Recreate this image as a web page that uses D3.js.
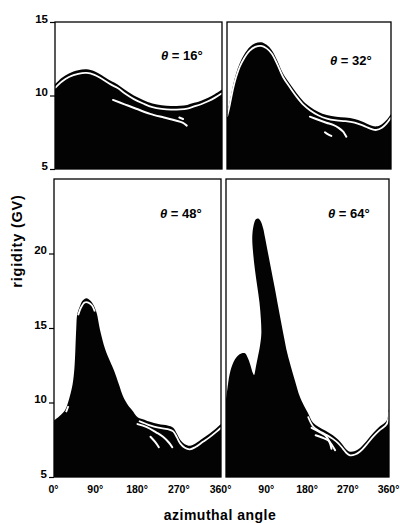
<!DOCTYPE html>
<html><head><meta charset="utf-8">
<script src="https://cdn.jsdelivr.net/npm/d3@7"></script>
<style>
html,body{margin:0;padding:0;background:#fff;}
svg{display:block;}
text{font-family:"Liberation Sans",Arial,sans-serif;font-weight:bold;fill:#000;}
</style></head><body>
<svg id="chart" width="400" height="523"></svg>
<script>
// ---------- data ----------
const angleTicks = [0, 90, 180, 270, 360];
const angleLabels = ["0°", "90°", "180°", "270°", "360°"];
const topRigidityTicks = [5, 10, 15];
const bottomRigidityTicks = [5, 10, 15, 20];
const zenithLabels = ["16°", "32°", "48°", "64°"];

// cutoff boundary (azimuth deg, rigidity GV) – top of the black region
const cutoff16 = [[0,10.75],[15,11.2],[30,11.5],[50,11.72],[68,11.78],[85,11.65],[100,11.4],[120,11.0],[135,10.75],[150,10.4],[170,10.0],[190,9.7],[210,9.45],[230,9.33],[250,9.28],[270,9.3],[285,9.36],[300,9.5],[315,9.65],[330,9.85],[345,10.1],[360,10.4]];
const cutoff32 = [[0,8.8],[4,9.3],[8,9.9],[14,10.8],[20,11.5],[28,12.2],[38,12.8],[50,13.3],[62,13.55],[75,13.62],[87,13.45],[98,13.1],[110,12.4],[123,11.5],[138,10.8],[153,10.15],[168,9.6],[182,9.24],[200,8.9],[219,8.67],[240,8.55],[260,8.5],[280,8.4],[295,8.25],[306,8.1],[318,7.95],[328,7.9],[340,8.05],[350,8.33],[360,8.75]];
const cutoff48 = [[0,8.8],[12,9.1],[24,9.5],[34,10.4],[40,11.2],[44,12.3],[46,13.5],[48,15.0],[50,15.9],[55,16.4],[62,16.85],[70,17.0],[78,16.85],[86,16.5],[92,16.0],[99,14.9],[110,13.6],[121,12.75],[130,12.1],[140,11.2],[149,10.4],[160,9.8],[168,9.5],[181,9.0],[195,8.85],[207,8.7],[225,8.55],[245,8.45],[257,8.3],[265,7.9],[272,7.5],[282,7.2],[293,7.1],[305,7.25],[321,7.6],[335,7.9],[351,8.3],[360,8.55]];
const cutoff64 = [[0,10.2],[3,10.9],[8,11.9],[15,12.6],[25,13.1],[35,13.3],[42,13.3],[48,13.0],[54,12.5],[59,12.0],[62,11.85],[66,12.4],[70,13.0],[75,13.8],[78,14.6],[77,15.6],[74,16.7],[69,17.8],[64,18.9],[60,20.0],[58,21.1],[61,21.9],[66,22.3],[71,22.35],[76,22.2],[82,21.7],[86,21.1],[93,20.0],[100,18.9],[107,17.8],[114,16.65],[121,15.5],[128,14.4],[135,13.35],[142,12.55],[152,11.5],[163,10.4],[172,9.8],[181,9.3],[192,8.65],[205,8.35],[220,8.1],[236,7.8],[248,7.5],[258,7.15],[266,6.85],[274,6.7],[285,6.75],[296,6.95],[310,7.4],[325,7.95],[340,8.4],[355,8.8],[360,9.6]];

// penumbra edges (white bands just inside the cutoff boundary)
const penumbra16 = [cutoff16];
const penumbra32 = [cutoff32];
const penumbra48 = [
  [[52,16.1],[58,16.6],[66,16.95],[74,16.95],[82,16.75],[88,16.35]],
  [[26,9.6],[31,10.0]],
  [[183,9.0],[195,8.85],[207,8.7],[225,8.55],[245,8.45],[257,8.3],[265,7.9],[272,7.5],[282,7.2],[293,7.1],[305,7.25],[321,7.6],[335,7.9],[351,8.3],[360,8.55]]
];
const penumbra64 = [
  [[181,9.3],[192,8.65],[205,8.35],[220,8.1],[236,7.8],[248,7.5],[258,7.15],[266,6.85],[274,6.7],[285,6.75],[296,6.95],[310,7.4],[325,7.95],[340,8.4],[355,8.8],[360,9.6]]
];

// forbidden-band streaks inside the black region
const streaks16 = [[[125,9.7],[150,9.4],[175,9.1],[205,8.75],[235,8.5],[260,8.3],[275,8.15],[284,7.95]], [[268,8.5],[276,8.4]]];
const streaks32 = [[[182,8.56],[200,8.35],[218,8.15],[233,8.0],[245,7.8],[255,7.54],[262,7.2]], [[215,7.5],[222,7.35],[229,7.25]]];
const streaks48 = [[[180,8.55],[200,8.35],[220,8.0],[235,7.7],[248,7.3],[255,7.0]], [[208,7.7],[218,7.35],[226,7.0]]];
const streaks64 = [[[189,8.3],[205,8.05],[219,7.8],[228,7.4],[233,6.9]], [[198,7.8],[212,7.65],[226,7.45],[235,7.1],[241,6.8]]];

// ---------- layout ----------
const panels = [
  {cut: cutoff16, pen: penumbra16, str: streaks16, label: zenithLabels[0], x0: 55,  x1: 222, yb: 169, yt: 22,  ymax: 15, ticks: topRigidityTicks, left: true,  bottom: false, ly: 38},
  {cut: cutoff32, pen: penumbra32, str: streaks32, label: zenithLabels[1], x0: 227, x1: 391, yb: 169, yt: 22,  ymax: 15, ticks: topRigidityTicks, left: false, bottom: false, ly: 43},
  {cut: cutoff48, pen: penumbra48, str: streaks48, label: zenithLabels[2], x0: 54,  x1: 221, yb: 477, yt: 179, ymax: 25, ticks: bottomRigidityTicks, left: true,  bottom: true, ly: 39},
  {cut: cutoff64, pen: penumbra64, str: streaks64, label: zenithLabels[3], x0: 226, x1: 389, yb: 477, yt: 179, ymax: 25, ticks: bottomRigidityTicks, left: false, bottom: true, ly: 39}
];

const svg = d3.select("#chart");
const defs = svg.append("defs");

panels.forEach((p, i) => {
  const x = d3.scaleLinear().domain([0, 360]).range([p.x0, p.x1]);
  const y = d3.scaleLinear().domain([5, p.ymax]).range([p.yb, p.yt]);
  const line = d3.line().x(d => x(d[0])).y(d => y(d[1])).curve(d3.curveCatmullRom.alpha(0.5));
  const lineLin = d3.line().x(d => x(d[0])).y(d => y(d[1]));

  defs.append("clipPath").attr("id", "clip" + i)
    .append("rect").attr("x", p.x0).attr("y", p.yt).attr("width", p.x1 - p.x0).attr("height", p.yb - p.yt + 2);

  const g = svg.append("g");
  const inner = g.append("g").attr("clip-path", `url(#clip${i})`);

  // black allowed region
  const topPath = line(p.cut);
  const closing = lineLin([[360, p.cut[p.cut.length-1][1]], [360, 5], [0, 5], [0, p.cut[0][1]]]);
  inner.append("path")
    .attr("d", topPath + "L" + closing.slice(1) + "Z")
    .attr("fill", "#030303");

  // penumbra white bands
  p.pen.forEach(seg => {
    inner.append("path").attr("d", line(seg))
      .attr("fill", "none").attr("stroke", "#fff").attr("stroke-width", 1.8)
      .attr("transform", "translate(0,3.6)");
  });
  // streaks
  p.str.forEach(seg => {
    inner.append("path").attr("d", line(seg))
      .attr("fill", "none").attr("stroke", "#fff").attr("stroke-width", 2)
      .attr("stroke-linecap", "round");
  });

  // frame
  g.append("rect").attr("x", p.x0).attr("y", p.yt)
    .attr("width", p.x1 - p.x0).attr("height", p.yb - p.yt)
    .attr("fill", "none").attr("stroke", "#000").attr("stroke-width", 1.3);

  // zenith label
  const t = g.append("text").attr("x", p.x1 - 61).attr("y", p.yt + p.ly).attr("font-size", 13);
  t.append("tspan").attr("font-style", "italic").text("θ");
  t.append("tspan").text(" = " + p.label);

  if (p.left) {
    const ax = g.append("g").attr("transform", `translate(${p.x0},0)`)
      .call(d3.axisLeft(y).tickValues(p.ticks).tickSize(5).tickPadding(2).tickFormat(d3.format("d")));
    ax.select(".domain").remove();
    ax.selectAll("line").attr("stroke", "#000").attr("stroke-width", 1.2);
    ax.selectAll("text").attr("dy", "0").attr("font-size", 11.5)
      .style("font-family", '"Liberation Sans",Arial,sans-serif').style("font-weight", "bold");
  }
  if (p.bottom) {
    const vals = p.left ? angleTicks : angleTicks.slice(1);
    const ax = g.append("g").attr("transform", `translate(0,${p.yb})`)
      .call(d3.axisBottom(x).tickValues(vals).tickSize(0).tickPadding(9)
        .tickFormat(d => angleLabels[angleTicks.indexOf(d)]));
    ax.select(".domain").remove();
    ax.selectAll("text").attr("font-size", 10.5).attr("dx", "-1")
      .style("font-family", '"Liberation Sans",Arial,sans-serif').style("font-weight", "bold");
  }
});

// axis titles
svg.append("text").attr("transform", "translate(22,241) rotate(-90)")
  .attr("text-anchor", "middle").attr("font-size", 14.5).attr("letter-spacing", 0.8)
  .text("rigidity (GV)");
svg.append("text").attr("x", 220).attr("y", 520)
  .attr("text-anchor", "middle").attr("font-size", 14).attr("letter-spacing", 0.5)
  .text("azimuthal angle");
</script>
</body></html>
